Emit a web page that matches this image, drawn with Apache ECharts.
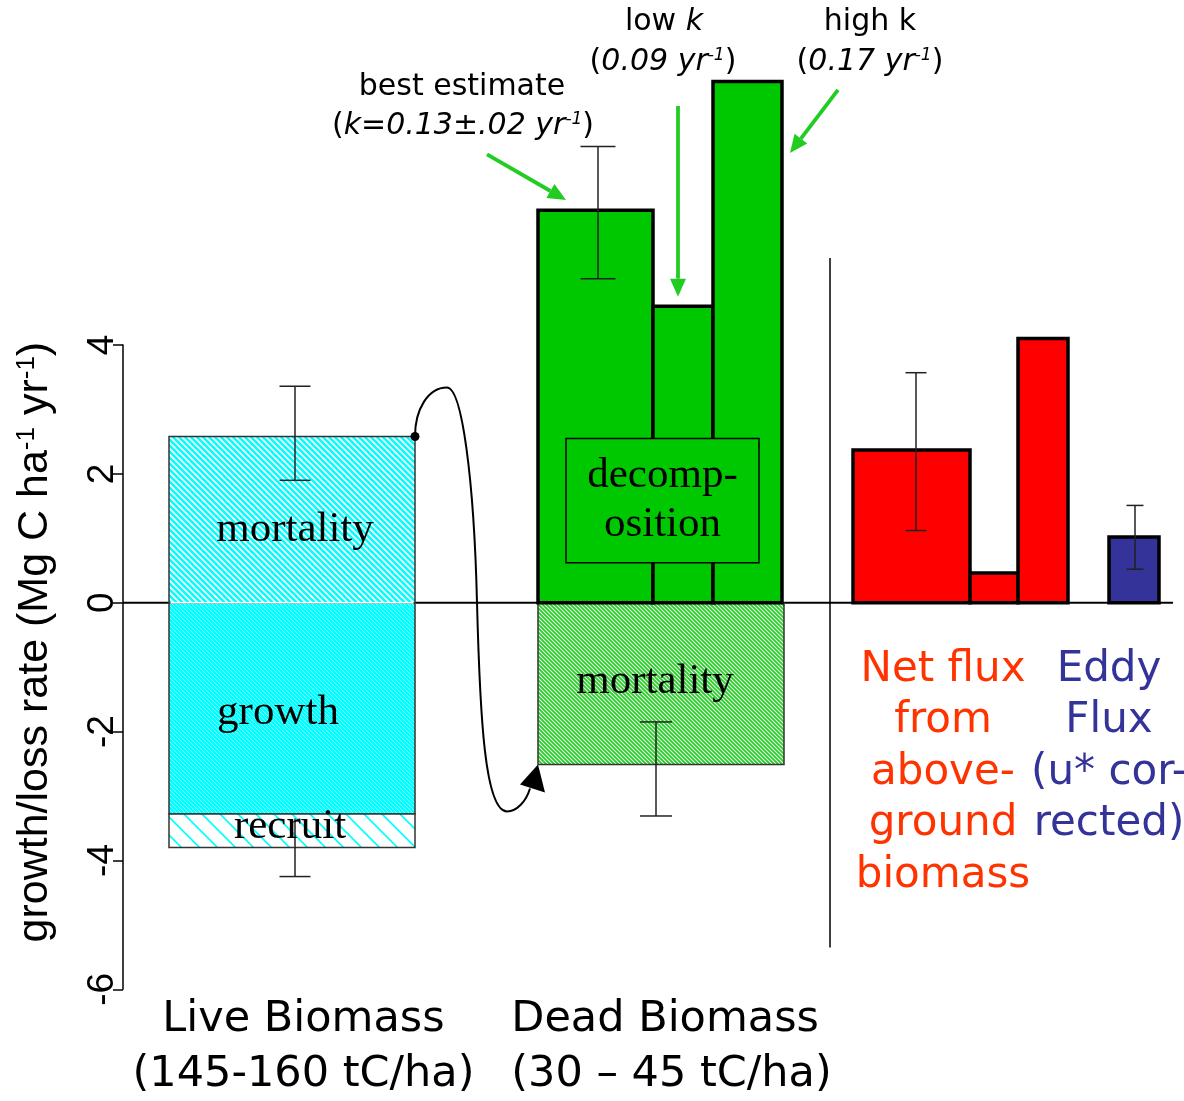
<!DOCTYPE html>
<html><head><meta charset="utf-8">
<script src="https://cdn.jsdelivr.net/npm/echarts@6/dist/echarts.min.js"></script>
<style>html,body{margin:0;padding:0;background:#fff}#c{width:1184px;height:1101px}</style>
</head><body><div id="c"></div>
<script>
// ================= DATA =================
// y-axis ticks (growth/loss rate, Mg C ha-1 yr-1)
const yTicks = [-6, -4, -2, 0, 2, 4];

// group (x-axis) labels
const groupNames = ['Live Biomass', 'Dead Biomass'];
const groupSubs  = ['(145-160 tC/ha)', '(30 – 45 tC/ha)'];
const groupPos   = [18.05, 54.85];

// bars: horizontal span (x units) and vertical extent (rate values)
const barNames = ['live mortality', 'live growth', 'live recruit', 'dead mortality',
                  'dead best estimate', 'dead low k', 'dead high k',
                  'net flux best', 'net flux low', 'net flux high', 'eddy flux'];
const barStart = [4.6, 4.6, 4.6, 41.5, 41.5, 53.0, 59.0, 73.0, 84.7, 89.5, 98.6];
const barEnd   = [29.2, 29.2, 29.2, 66.1, 53.0, 59.0, 65.9, 84.7, 89.5, 94.5, 103.6];
const barFrom  = [0, 0, -3.28, 0, 0, 0, 0, 0, 0, 0, 0];
const barTo    = [2.58, -3.28, -3.80, -2.51, 6.09, 4.60, 8.09, 2.37, 0.46, 4.10, 1.02];

// error bars
const errNames = ['live mortality', 'live growth+recruit', 'dead best estimate', 'dead mortality', 'net flux', 'eddy flux'];
const errX     = [17.2, 17.2, 47.5, 53.3, 79.3, 101.2];
const errLow   = [1.90, -4.25, 5.03, -3.31, 1.12, 0.52];
const errHigh  = [3.36, -3.35, 7.08, -1.85, 3.57, 1.51];

// labels inside the bars
const inBarLabels = ['mortality', 'growth', 'recruit', 'mortality'];
const inBarX      = [17.2, 15.5, 16.7, 53.2];
const inBarY      = [1.13, -1.70, -3.47, -1.23];

// decomposition box
const decompText = ['decomp-', 'osition'];
const decompX = [44.3, 63.6];
const decompY = [0.62, 2.55];

// right-hand texts
const netText  = ['Net flux', 'from', 'above-', 'ground', 'biomass'];
const eddyText = ['Eddy', 'Flux', '(u* cor-', 'rected)'];
const sideX = [82.0, 98.6];
const sideTop = -0.64;

// annotations at top: [x, y]
const annoTexts = ['best estimate', '{n|(}{i|k=0.13±.02 yr}{s|-1}{n|)}', 'low {i|k}', '{n|(}{i|0.09 yr}{s|-1}{n|)}', 'high k', '{n|(}{i|0.17 yr}{s|-1}{n|)}'];
const annoX = [33.9, 34.0, 54.1, 54.0, 74.7, 74.7];
const annoY = [8.00, 7.40, 9.01, 8.39, 9.01, 8.39];

// green arrows: tail -> tip
const arrowTailX = [36.4, 55.5, 71.5];
const arrowTailY = [6.96, 7.71, 7.96];
const arrowTipX  = [44.3, 55.5, 66.7];
const arrowTipY  = [6.25, 4.75, 6.98];

// separator and baseline
const sepX = 70.7, sepRange = [-5.35, 5.35];
const baseRange = [0, 105];

// ================= STYLES =================
const SANS  = "'Liberation Sans', Arial, sans-serif";
const COMIC = "'DejaVu Sans', sans-serif";
const SERIF = "'Liberation Serif', 'Times New Roman', serif";
const GREEN = '#00c800', RED = '#ff0000', NAVY = '#333399', ARROW_GREEN = '#22cc22';

function hatch(bg, fg, size, lw, alpha) {
  const c = document.createElement('canvas');
  c.width = c.height = size;
  const g = c.getContext('2d');
  if (bg) { g.fillStyle = bg; g.fillRect(0, 0, size, size); }
  g.strokeStyle = fg; g.lineWidth = lw; g.globalAlpha = alpha == null ? 1 : alpha;
  g.beginPath();
  for (const k of [-size, 0, size]) { g.moveTo(k - 1, -1); g.lineTo(k + size + 1, size + 1); }
  g.stroke();
  return { image: c, repeat: 'repeat' };
}
const P = {
  cyanHatch: hatch('#ffffff', '#00ffff', 6, 2.6),
  cyanDense: hatch('#00ffff', '#ffffff', 4, 0.7, 0.7),
  cyanSparse: hatch('#ffffff', '#00ffff', 18, 1.6),
  greenHatch: hatch('#28cc28', '#ffffff', 4, 1.1, 0.9)
};
const barFill  = [P.cyanHatch, P.cyanDense, P.cyanSparse, P.greenHatch, GREEN, GREEN, GREEN, RED, RED, RED, NAVY];
const barLineW = [1.5, 1.5, 1.5, 1.5, 3.5, 3.5, 3.5, 3.5, 3.5, 3.5, 3.5];
const barStroke = ['#333', '#333', '#333', '#333', '#000', '#000', '#000', '#000', '#000', '#000', '#000'];
const errCapW = [31, 31, 35, 32, 21, 17];
const errTopCap = [true, false, true, true, true, true];

// ================= RENDERERS =================
function renderBar(params, api) {
  const i = params.dataIndex;
  const p0 = api.coord([barStart[i], barFrom[i]]);
  const p1 = api.coord([barEnd[i], barTo[i]]);
  return {
    type: 'rect',
    shape: { x: Math.min(p0[0], p1[0]), y: Math.min(p0[1], p1[1]), width: Math.abs(p1[0] - p0[0]), height: Math.abs(p1[1] - p0[1]) },
    style: { fill: barFill[i], stroke: barStroke[i], lineWidth: barLineW[i] }
  };
}

function renderErr(params, api) {
  const i = params.dataIndex;
  const lo = api.coord([errX[i], errLow[i]]);
  const hi = api.coord([errX[i], errHigh[i]]);
  const w = errCapW[i] / 2;
  const st = { stroke: '#222', lineWidth: 1.5 };
  const ch = [
    { type: 'line', shape: { x1: lo[0], y1: lo[1], x2: hi[0], y2: hi[1] }, style: st },
    { type: 'line', shape: { x1: lo[0] - w, y1: lo[1], x2: lo[0] + w, y2: lo[1] }, style: st }
  ];
  if (errTopCap[i]) ch.push({ type: 'line', shape: { x1: hi[0] - w, y1: hi[1], x2: hi[0] + w, y2: hi[1] }, style: st });
  return { type: 'group', children: ch };
}

function renderLines(params, api) {
  const b0 = api.coord([baseRange[0], 0]), b1 = api.coord([baseRange[1], 0]);
  const s0 = api.coord([sepX, sepRange[0]]), s1 = api.coord([sepX, sepRange[1]]);
  return { type: 'group', children: [
    { type: 'line', shape: { x1: b0[0], y1: b0[1], x2: b1[0], y2: b1[1] }, style: { stroke: '#000', lineWidth: 2 } },
    { type: 'line', shape: { x1: s0[0], y1: s0[1], x2: s1[0], y2: s1[1] }, style: { stroke: '#000', lineWidth: 1.5 } }
  ] };
}

function arrowHead(tail, tip, len, half) {
  const dx = tip[0] - tail[0], dy = tip[1] - tail[1];
  const L = Math.hypot(dx, dy), ux = dx / L, uy = dy / L;
  const bx = tip[0] - ux * len, by = tip[1] - uy * len;
  return [[tip[0], tip[1]], [bx - uy * half, by + ux * half], [bx + uy * half, by - ux * half]];
}

function renderAnno(params, api) {
  const c = (x, y) => api.coord([x, y]);
  const ch = [];
  // white gap at zero across the live bar
  const z0 = c(barStart[0], 0), z1 = c(barEnd[0], 0);
  ch.push({ type: 'line', shape: { x1: z0[0] + 1.5, y1: z0[1], x2: z1[0] - 1.5, y2: z1[1] }, style: { stroke: '#ffffff', lineWidth: 1.5 } });

  // in-bar labels
  inBarLabels.forEach((t, i) => {
    const p = c(inBarX[i], inBarY[i]);
    ch.push({ type: 'text', x: p[0], y: p[1], style: { text: t, fontFamily: SERIF, fontSize: 43, fill: '#000', align: 'center', verticalAlign: 'middle' } });
  });

  // decomposition box
  const d0 = c(decompX[0], decompY[1]), d1 = c(decompX[1], decompY[0]);
  ch.push({ type: 'rect', shape: { x: d0[0], y: d0[1], width: d1[0] - d0[0], height: d1[1] - d0[1] }, style: { fill: GREEN, stroke: '#000', lineWidth: 1.5 } });
  ch.push({ type: 'text', x: (d0[0] + d1[0]) / 2, y: (d0[1] + d1[1]) / 2, style: { text: decompText.join('\n'), fontFamily: SERIF, fontSize: 43, lineHeight: 49, fill: '#000', align: 'center', verticalAlign: 'middle' } });

  // side texts
  const n = c(sideX[0], sideTop), e = c(sideX[1], sideTop);
  ch.push({ type: 'text', x: n[0], y: n[1], style: { text: netText.join('\n'), fontFamily: COMIC, fontSize: 42, lineHeight: 51.5, fill: '#ff3300', align: 'center', verticalAlign: 'top' } });
  ch.push({ type: 'text', x: e[0], y: e[1], style: { text: eddyText.join('\n'), fontFamily: COMIC, fontSize: 42, lineHeight: 51.5, fill: NAVY, align: 'center', verticalAlign: 'top' } });

  // top annotations
  const rich = {
    n: { fontFamily: COMIC, fontSize: 30, fill: '#000' },
    i: { fontFamily: COMIC, fontSize: 30, fontStyle: 'italic', fill: '#000' },
    s: { fontFamily: COMIC, fontSize: 17, fontStyle: 'italic', fill: '#000', verticalAlign: 'top' }
  };
  annoTexts.forEach((t, i) => {
    const p = c(annoX[i], annoY[i]);
    ch.push({ type: 'text', x: p[0], y: p[1], style: { text: t, rich: rich, fontFamily: COMIC, fontSize: 30, fill: '#000', align: 'center', verticalAlign: 'middle' } });
  });

  // green arrows
  arrowTailX.forEach((_, i) => {
    const tail = c(arrowTailX[i], arrowTailY[i]), tip = c(arrowTipX[i], arrowTipY[i]);
    const head = arrowHead(tail, tip, 18, 8);
    const bx = (head[1][0] + head[2][0]) / 2, by = (head[1][1] + head[2][1]) / 2;
    ch.push({ type: 'line', shape: { x1: tail[0], y1: tail[1], x2: bx, y2: by }, style: { stroke: ARROW_GREEN, lineWidth: 3.8 } });
    ch.push({ type: 'polygon', shape: { points: head }, style: { fill: ARROW_GREEN } });
  });

  // curved black arrow from live mortality to dead mortality
  const S = c(barEnd[0], barTo[0]);
  const T = c(barStart[3], barTo[3]);
  const s = (dx, dy) => (S[0] + dx) + ' ' + (S[1] + dy);
  const t = (dx, dy) => (T[0] + dx) + ' ' + (T[1] + dy);
  const pd = 'M ' + s(0, 0) +
    ' C ' + s(0, -27) + ' ' + s(13, -49) + ' ' + s(32, -49) +
    ' C ' + s(47, -49) + ' ' + s(59, 43) + ' ' + s(62, 166) +
    ' C ' + t(-58, -46) + ' ' + t(-53, 47) + ' ' + t(-31, 47) +
    ' C ' + t(-21, 47) + ' ' + t(-12, 37) + ' ' + t(-8, 24);
  ch.push({ type: 'path', shape: { pathData: pd }, style: { stroke: '#000', lineWidth: 2, fill: null } });
  ch.push({ type: 'polygon', shape: { points: [[T[0], T[1]], [T[0] - 18, T[1] + 20], [T[0] + 7, T[1] + 28]] }, style: { fill: '#000' } });
  ch.push({ type: 'circle', shape: { cx: S[0], cy: S[1], r: 4.5 }, style: { fill: '#000' } });

  return { type: 'group', children: ch };
}

// ================= CHART =================
const chart = echarts.init(document.getElementById('c'), null, { renderer: 'canvas' });
chart.setOption({
  animation: false,
  backgroundColor: '#ffffff',
  grid: { left: 123, right: 0, top: 345, bottom: 111.7 },
  xAxis: {
    type: 'value', min: 0, max: 106.1,
    axisLine: { show: false, onZero: false }, axisTick: { show: false }, splitLine: { show: false },
    axisLabel: {
      customValues: groupPos, margin: 3,
      formatter: function (v) {
        const i = groupPos.findIndex(g => Math.abs(g - v) < 1e-6);
        if (i < 0) return '';
        const k = i === 0 ? 'c' : 'l';
        return '{' + k + '|' + groupNames[i] + '}\n{' + k + '|' + groupSubs[i] + '}';
      },
      rich: {
        c: { fontFamily: COMIC, fontSize: 43, lineHeight: 55, color: '#000', align: 'center' },
        l: { fontFamily: COMIC, fontSize: 43, lineHeight: 55, color: '#000', align: 'left' }
      }
    }
  },
  yAxis: {
    type: 'value', min: -6, max: 4, interval: 2,
    axisLine: { show: true, lineStyle: { color: '#000', width: 1.5 } },
    axisTick: { show: true, length: 10, lineStyle: { color: '#000', width: 1.5 } },
    splitLine: { show: false },
    axisLabel: { rotate: 90, fontSize: 37, fontFamily: SANS, color: '#000', margin: 2 },
    name: 'growth/loss rate (Mg C ha{s|-1} yr{s|-1})',
    nameLocation: 'middle', nameRotate: 90, nameGap: 66,
    nameTextStyle: {
      fontSize: 43, fontFamily: SANS, color: '#000', padding: [0, 0, 0, 50],
      rich: { s: { fontSize: 26, fontFamily: SANS, color: '#000', verticalAlign: 'top' } }
    }
  },
  series: [
    { type: 'custom', silent: true, z: 1, renderItem: renderLines, data: [[0, 0]] },
    { type: 'custom', silent: true, z: 2, renderItem: renderBar, data: barTo.map((v, i) => [barStart[i], v]) },
    { type: 'custom', silent: true, z: 3, renderItem: renderErr, data: errHigh.map((v, i) => [errX[i], v]) },
    { type: 'custom', silent: true, z: 4, renderItem: renderAnno, data: [[0, 0]] }
  ]
});
</script>
</body></html>
